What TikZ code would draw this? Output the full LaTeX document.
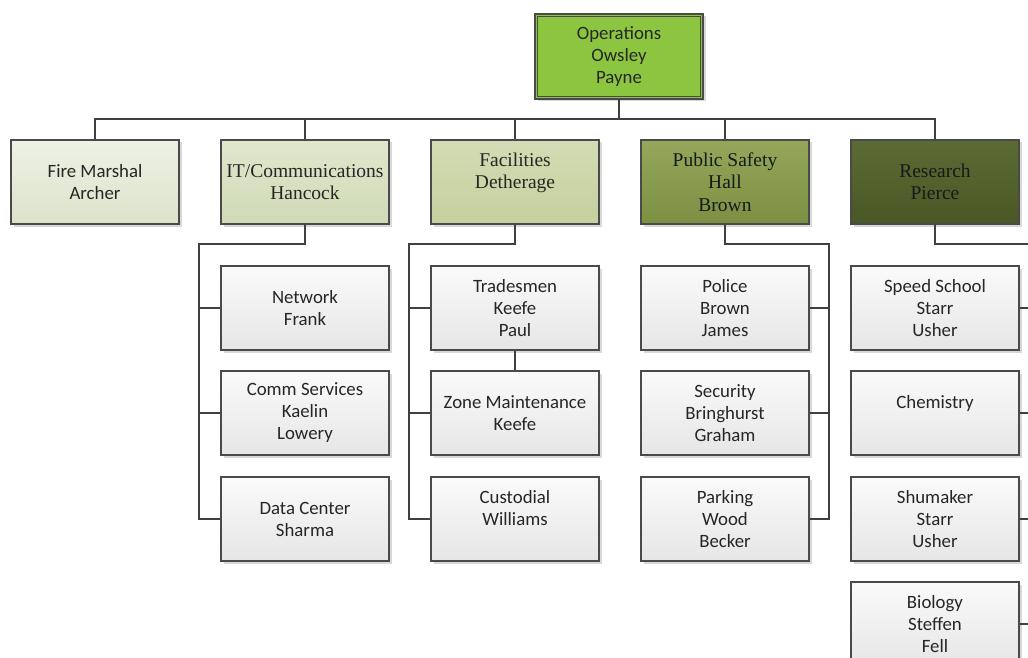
\documentclass[tikz,border=0pt]{standalone}
\usepackage{fontspec}
\setmainfont{Carlito}
\newfontfamily\srf{Liberation Serif}
\usetikzlibrary{shadows}
\definecolor{boxline}{HTML}{4A4A4A}
\definecolor{connc}{HTML}{404040}
\definecolor{txt}{HTML}{262626}
\definecolor{opfill}{HTML}{8CC540}
\definecolor{fmTop}{HTML}{EEF1E5}\definecolor{fmBot}{HTML}{DCE3CA}
\definecolor{itTop}{HTML}{E0E7CE}\definecolor{itBot}{HTML}{D0DAB5}
\definecolor{faTop}{HTML}{D3DCB4}\definecolor{faBot}{HTML}{C5D09E}
\definecolor{psTop}{HTML}{94A75A}\definecolor{psBot}{HTML}{7C9043}
\definecolor{rsTop}{HTML}{5C6B34}\definecolor{rsBot}{HTML}{4A5726}
\definecolor{chTop}{HTML}{FAFAFA}\definecolor{chBot}{HTML}{E6E6E6}
\begin{document}
\begin{tikzpicture}[x=1pt,y=-1pt,
  box/.style={draw=boxline, line width=1.3pt, minimum width=168pt, minimum height=84pt,
    inner sep=0pt, align=center, font=\fontsize{18.8}{22}\selectfont, text=txt,
    drop shadow={shadow xshift=2.5pt, shadow yshift=-2.5pt, fill=black!30, opacity=0.5}},
  serifbox/.style={box, font=\srf\fontsize{19.5}{22.5}\selectfont},
  childbox/.style={box, top color=chTop, bottom color=chBot},
  conn/.style={draw=connc, line width=1.2pt}]
\useasboundingbox (0,0) rectangle (1028,658);
\clip (0,0) rectangle (1028,658);
% top
\node[box, minimum height=85pt, fill=opfill, draw=boxline] (op) at (619,56.5) {Operations\\Owsley\\Payne};
\draw[draw=boxline, line width=1.1pt] ([shift={(3.5pt,-3.5pt)}]op.north west) rectangle ([shift={(-3.5pt,3.5pt)}]op.south east);
% level 1
\node[box, top color=fmTop, bottom color=fmBot] (fm) at (95,182) {Fire Marshal\\Archer};
\node[serifbox, top color=itTop, bottom color=itBot] (it) at (305,182) {IT/Communications\\Hancock};
\node[serifbox, top color=faTop, bottom color=faBot] (fa) at (515,182) {Facilities\\Detherage\\~};
\node[serifbox, top color=psTop, bottom color=psBot, text=black!90] (ps) at (725,182) {Public Safety\\Hall\\Brown};
\node[serifbox, top color=rsTop, bottom color=rsBot, text=black!90] (rs) at (935,182) {Research\\Pierce};
% IT children
\node[childbox] (nw) at (305,308) {Network\\Frank};
\node[childbox] (cs) at (305,413) {Comm Services\\Kaelin\\Lowery};
\node[childbox] (dc) at (305,519) {Data Center\\Sharma};
% Facilities children
\node[childbox] (tr) at (515,308) {Tradesmen\\Keefe\\Paul};
\node[childbox] (zm) at (515,413) {Zone Maintenance\\Keefe};
\node[childbox] (cu) at (515,519) {Custodial\\Williams\\~};
% Public Safety children
\node[childbox] (po) at (725,308) {Police\\Brown\\James};
\node[childbox] (se) at (725,413) {Security\\Bringhurst\\Graham};
\node[childbox] (pa) at (725,519) {Parking\\Wood\\Becker};
% Research children
\node[childbox] (ss) at (935,308) {Speed School\\Starr\\Usher};
\node[childbox] (ch) at (935,413) {Chemistry\\~};
\node[childbox] (sh) at (935,519) {Shumaker\\Starr\\Usher};
\node[childbox] (bi) at (935,624) {Biology\\Steffen\\Fell};
% connectors top
\coordinate (b1) at (619,119);
\draw[conn] (op.south) -- (b1);
\draw[conn] (fm.north) -- (fm.north |- b1) -- (rs.north |- b1) -- (rs.north);
\draw[conn] (it.north) -- (it.north |- b1);
\draw[conn] (fa.north) -- (fa.north |- b1);
\draw[conn] (ps.north) -- (ps.north |- b1);
% IT
\coordinate (itx) at (199,244);
\draw[conn] (it.south) |- (itx) |- (dc.west);
\draw[conn] (itx |- nw.west) -- (nw.west);
\draw[conn] (itx |- cs.west) -- (cs.west);
% Facilities
\coordinate (fax) at (409,244);
\draw[conn] (fa.south) |- (fax) |- (cu.west);
\draw[conn] (fax |- tr.west) -- (tr.west);
\draw[conn] (fax |- zm.west) -- (zm.west);
\draw[conn] (tr.south) -- (zm.north);
% Public Safety
\coordinate (psx) at (829,244);
\draw[conn] (ps.south) |- (psx) |- (pa.east);
\draw[conn] (psx |- po.east) -- (po.east);
\draw[conn] (psx |- se.east) -- (se.east);
% Research
\coordinate (rsx) at (1039,244);
\draw[conn] (rs.south) |- (rsx) |- (bi.east);
\draw[conn] (rsx |- ss.east) -- (ss.east);
\draw[conn] (rsx |- ch.east) -- (ch.east);
\draw[conn] (rsx |- sh.east) -- (sh.east);
\end{tikzpicture}
\end{document}
